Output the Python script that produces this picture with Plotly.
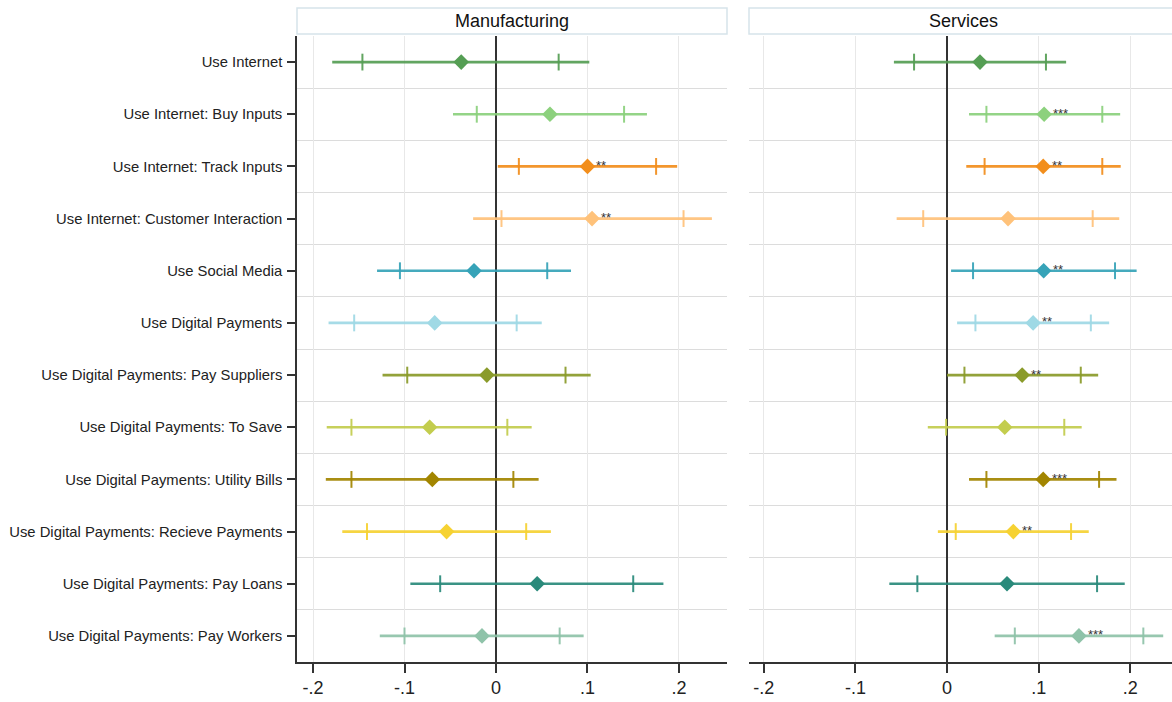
import plotly.graph_objects as go

categories = [
    "Use Internet",
    "Use Internet: Buy Inputs",
    "Use Internet: Track Inputs",
    "Use Internet: Customer Interaction",
    "Use Social Media",
    "Use Digital Payments",
    "Use Digital Payments: Pay Suppliers",
    "Use Digital Payments: To Save",
    "Use Digital Payments: Utility Bills",
    "Use Digital Payments: Recieve Payments",
    "Use Digital Payments: Pay Loans",
    "Use Digital Payments: Pay Workers",
]

colors = ["#559e54", "#8cd17d", "#f28e1c", "#ffc27a", "#36a3b8", "#9fd9e5",
          "#8a9b2a", "#c3cd4e", "#a28500", "#f6d232", "#2a8a7b", "#8fc3a9"]

# Manufacturing
man_coef = [-0.038, 0.059, 0.100, 0.105, -0.024, -0.067, -0.010, -0.0725, -0.0696, -0.054, 0.045, -0.0153]
man_lo95 = [-0.179, -0.047, 0.002, -0.025, -0.130, -0.183, -0.124, -0.185, -0.186, -0.168, -0.0936, -0.127]
man_hi95 = [0.102, 0.165, 0.198, 0.236, 0.082, 0.050, 0.1035, 0.039, 0.0466, 0.060, 0.183, 0.0958]
man_lo90 = [-0.146, -0.021, 0.025, 0.006, -0.105, -0.155, -0.097, -0.158, -0.158, -0.141, -0.061, -0.100]
man_hi90 = [0.0685, 0.140, 0.175, 0.205, 0.056, 0.0226, 0.076, 0.0124, 0.019, 0.033, 0.150, 0.0696]
man_stars = ["", "", "**", "**", "", "", "", "", "", "", "", ""]

# Services
ser_coef = [0.036, 0.106, 0.105, 0.0666, 0.1055, 0.094, 0.082, 0.063, 0.105, 0.0724, 0.0655, 0.144]
ser_lo95 = [-0.058, 0.024, 0.021, -0.055, 0.0044, 0.011, 0.000, -0.021, 0.024, -0.010, -0.063, 0.052]
ser_hi95 = [0.130, 0.189, 0.1896, 0.188, 0.207, 0.177, 0.165, 0.147, 0.185, 0.1547, 0.194, 0.236]
ser_lo90 = [-0.036, 0.043, 0.041, -0.026, 0.0284, 0.031, 0.019, -0.001, 0.043, 0.0095, -0.0324, 0.074]
ser_hi90 = [0.108, 0.1695, 0.1695, 0.159, 0.1834, 0.157, 0.146, 0.128, 0.166, 0.1354, 0.1638, 0.2143]
ser_stars = ["", "***", "**", "", "**", "**", "**", "", "***", "**", "", "***"]

panels = ["Manufacturing", "Services"]
xticks = [-0.2, -0.1, 0, 0.1, 0.2]
xticktext = ["-.2", "-.1", "0", ".1", ".2"]

W, H = 1172, 702
top, bottom = 36, 40
plot_h = H - top - bottom
font_family = "Liberation Sans, Arial, sans-serif"

fig = go.Figure()

panel_data = [
    (man_coef, man_lo95, man_hi95, man_lo90, man_hi90, man_stars, "x", "y"),
    (ser_coef, ser_lo95, ser_hi95, ser_lo90, ser_hi90, ser_stars, "x2", "y2"),
]

annotations = []
for coef, lo95, hi95, lo90, hi90, stars, xa, ya in panel_data:
    for i in range(len(categories)):
        c = colors[i]
        fig.add_trace(go.Scatter(x=[lo95[i], hi95[i]], y=[i, i], mode="lines",
                                 line=dict(color=c, width=2.6), opacity=0.92,
                                 xaxis=xa, yaxis=ya, showlegend=False, hoverinfo="skip"))
        fig.add_trace(go.Scatter(x=[lo90[i], hi90[i]], y=[i, i], mode="markers",
                                 marker=dict(symbol="line-ns", size=12,
                                             line=dict(color=c, width=2)),
                                 opacity=0.92,
                                 xaxis=xa, yaxis=ya, showlegend=False, hoverinfo="skip"))
        fig.add_trace(go.Scatter(x=[coef[i]], y=[i], mode="markers",
                                 marker=dict(symbol="diamond", size=12, color=c,
                                             line=dict(width=0)),
                                 xaxis=xa, yaxis=ya, showlegend=False))
        if stars[i]:
            annotations.append(dict(x=coef[i], y=i, xref=xa, yref=ya, text=stars[i],
                                    showarrow=False, xanchor="left", yanchor="middle",
                                    xshift=7, yshift=1,
                                    font=dict(size=13, color="#333333", family=font_family)))

# panel header boxes
left_px = (297, 727)
right_px = (749, 1180)
hdr_y0 = (H - bottom - 34) / plot_h
hdr_y1 = (H - bottom - 8) / plot_h
hdr_yc = (H - bottom - 21) / plot_h
shapes = []
for (x0, x1), name in zip([left_px, right_px], panels):
    shapes.append(dict(type="rect", xref="paper", yref="paper",
                       x0=x0 / W, x1=x1 / W, y0=hdr_y0, y1=hdr_y1,
                       line=dict(color="#d6e4ea", width=1.5), fillcolor="white", layer="below"))
    xc = (x0 + min(x1, 1177)) / 2 / W
    annotations.append(dict(x=xc, y=hdr_yc, xref="paper", yref="paper", text=name,
                            showarrow=False, xanchor="center", yanchor="middle",
                            font=dict(size=18, color="#111111", family=font_family)))

half = [i + 0.5 for i in range(len(categories) - 1)]

xcommon = dict(tickvals=xticks, ticktext=xticktext, showgrid=True, gridcolor="#e8e8e8",
               gridwidth=1, zeroline=True, zerolinecolor="#333333", zerolinewidth=2,
               showline=True, linecolor="#333333", linewidth=1.5, ticks="outside",
               ticklen=9, tickwidth=1.5, tickcolor="#333333",
               tickfont=dict(size=18, color="#222222", family=font_family))
ycommon = dict(range=[11.5, -0.5], tickvals=list(range(len(categories))),
               showgrid=False, zeroline=False,
               minor=dict(tickvals=half, showgrid=True, gridcolor="#dcdcdc", gridwidth=1, ticks=""))

fig.update_layout(
    width=W, height=H,
    margin=dict(l=0, r=0, t=top, b=bottom),
    plot_bgcolor="white", paper_bgcolor="white",
    font=dict(family=font_family),
    xaxis=dict(domain=[left_px[0] / W, left_px[1] / W], range=[-0.2175, 0.2525], **xcommon),
    xaxis2=dict(domain=[749 / W, 1.0], range=[-0.2162, 0.2456], **xcommon),
    yaxis=dict(anchor="x", ticktext=categories, showline=True, linecolor="#333333",
               linewidth=1.5, ticks="outside", ticklen=8, tickwidth=1.5, tickcolor="#333333",
               ticklabelstandoff=2,
               tickfont=dict(size=14.8, color="#222222", family=font_family), **ycommon),
    yaxis2=dict(anchor="x2", matches="y", showticklabels=False, ticks="", showline=False,
                **ycommon),
    shapes=shapes,
    annotations=annotations,
)

fig.write_html("out.html",
               config={"displayModeBar": False},
               post_script="document.body.style.margin='0';document.body.style.overflow='hidden';")
